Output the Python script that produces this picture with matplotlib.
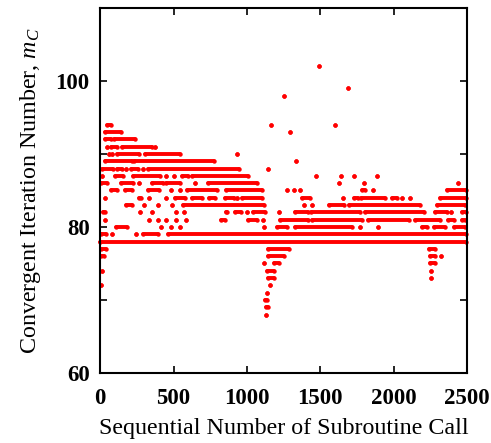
import matplotlib
matplotlib.use("Agg")
import matplotlib.pyplot as plt

# iteration number levels and the call ranges (start, end) where dots show at that level
levels = [102, 99, 98, 94, 93, 92, 91, 90, 89, 88, 87, 86, 85, 84, 83, 82, 81, 80,
          79, 78, 77, 76, 75, 74, 73, 72, 71, 70, 69, 68]
runs = [
    [(1491, 1491)],
    [(1689, 1689)],
    [(1250, 1250)],
    [(50, 75), (1166, 1166), (1602, 1602)],
    [(36, 141), (1293, 1293)],
    [(32, 73), (95, 236)],
    [(50, 50), (77, 118), (150, 350), (377, 377)],
    [(59, 59), (82, 82), (118, 264), (305, 543), (932, 932)],
    [(36, 214), (232, 777), (1336, 1336)],
    [(14, 88), (118, 150), (173, 173), (209, 255), (293, 293), (327, 947), (1147, 1147)],
    [(14, 14), (100, 157), (225, 407), (452, 452), (505, 505), (559, 600), (627, 1011),
     (1470, 1470), (1643, 1643), (1730, 1730), (1887, 1887)],
    [(5, 50), (141, 225), (264, 264), (354, 430), (452, 543), (645, 645), (736, 1068),
     (1625, 1625), (1800, 1800), (2437, 2437)],
    [(73, 118), (168, 218), (323, 400), (482, 482), (543, 543), (589, 793), (861, 1102),
     (1273, 1273), (1318, 1318), (1363, 1363), (1785, 1807), (1860, 1860), (2364, 2495)],
    [(36, 36), (264, 277), (332, 332), (452, 452), (509, 577), (627, 691), (741, 782),
     (852, 909), (932, 932), (966, 1102), (1375, 1432), (1652, 1652), (1727, 1755),
     (1778, 1944), (1989, 2023), (2057, 2057), (2114, 2114), (2314, 2495)],
    [(173, 214), (300, 300), (391, 391), (491, 491), (566, 1120), (1386, 1386),
     (1447, 1447), (1557, 1659), (1698, 2182), (2296, 2489)],
    [(20, 36), (270, 270), (355, 355), (514, 514), (573, 573), (861, 863), (920, 961),
     (1000, 1000), (1045, 1125), (1220, 1220), (1325, 1416), (1438, 1773), (1807, 2205),
     (2285, 2364), (2391, 2391), (2466, 2495)],
    [(32, 32), (332, 332), (391, 391), (452, 452), (514, 514), (582, 582), (823, 852),
     (1011, 1068), (1113, 1113), (1227, 1420), (1447, 1785), (1823, 2103), (2148, 2314),
     (2369, 2410), (2466, 2489)],
    [(111, 186), (418, 418), (482, 482), (543, 543), (1120, 1120), (1204, 1273),
     (1329, 1716), (1769, 1769), (1891, 1891), (2194, 2228), (2273, 2353), (2410, 2489)],
    [(5, 43), (82, 82), (241, 241), (293, 391), (464, 2495)],
    [(0, 2495)],
    [(9, 43), (1147, 1284), (2239, 2285)],
    [(5, 27), (1143, 1250), (2246, 2285), (2323, 2323)],
    [(1120, 1120), (1182, 1216), (2246, 2285)],
    [(14, 14), (1136, 1182), (2255, 2255)],
    [(1143, 1182), (2255, 2255)],
    [(9, 9), (1159, 1159)],
    [(1136, 1136)],
    [(1125, 1136)],
    [(1130, 1143)],
    [(1130, 1130)],
]

xticks = [0, 500, 1000, 1500, 2000, 2500]
yticks = [60, 70, 80, 90, 100, 110]
ytick_labels = ["60", "", "80", "", "100", ""]

plt.rcParams["font.family"] = "Liberation Serif"
plt.rcParams["mathtext.fontset"] = "custom"
plt.rcParams["mathtext.it"] = "Liberation Serif:italic"
plt.rcParams["mathtext.rm"] = "Liberation Serif"

fig = plt.figure(figsize=(4.91, 4.43), dpi=100)
ax = fig.add_axes([0.204, 0.158, 0.747, 0.824])

for lev, segs in zip(levels, runs):
    for s, e in segs:
        ax.plot([s, e], [lev, lev], "-o", color="red", lw=2.8, ms=3.2,
                solid_capstyle="round", markeredgewidth=0, clip_on=False)

ax.set_xlim(0, 2500)
ax.set_ylim(60, 110)
ax.set_xticks(xticks)
ax.set_xticklabels([str(t) for t in xticks], fontweight="bold", fontsize=16.5)
ax.set_yticks(yticks)
ax.set_yticklabels(ytick_labels, fontweight="bold", fontsize=16.5)
ax.tick_params(direction="in", top=True, right=True, length=5, width=1.2)
ax.tick_params(axis="x", pad=11)
ax.tick_params(axis="y", pad=7.5)
for sp in ax.spines.values():
    sp.set_linewidth(1.5)

ax.set_xlabel("Sequential Number of Subroutine Call", fontsize=17.3, labelpad=6)
ax.set_ylabel("Convergent Iteration Number, $m_C$", fontsize=17.3, labelpad=9)

fig.savefig("out.png", dpi=100)
